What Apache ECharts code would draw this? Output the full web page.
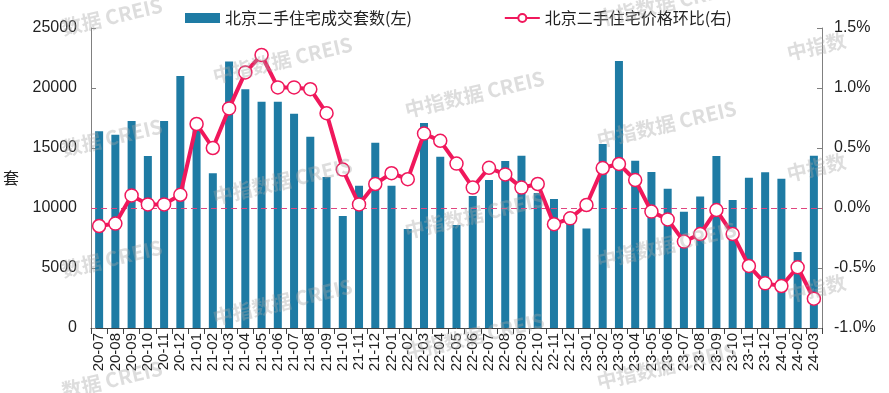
<!DOCTYPE html>
<html><head><meta charset="utf-8">
<script src="https://cdn.jsdelivr.net/npm/echarts@6/dist/echarts.min.js"></script>
<style>html,body{margin:0;padding:0;background:#fff}#c{width:889px;height:393px}</style>
</head><body><div id="c"></div>
<script>
const categories = ['20-07','20-08','20-09','20-10','20-11','20-12',
'21-01','21-02','21-03','21-04','21-05','21-06','21-07','21-08','21-09','21-10','21-11','21-12',
'22-01','22-02','22-03','22-04','22-05','22-06','22-07','22-08','22-09','22-10','22-11','22-12',
'23-01','23-02','23-03','23-04','23-05','23-06','23-07','23-08','23-09','23-10','23-11','23-12',
'24-01','24-02','24-03'];
const volumes = [16400,16100,17250,14330,17250,21000,
17400,12900,22200,19900,18860,18860,17860,15940,12580,9330,11860,15440,
11860,8250,17080,14270,8580,11000,12330,13920,14360,11250,10750,9000,
8300,15330,22250,13940,13000,11600,9690,10950,14330,10670,12530,12970,
12440,6330,14360];
const priceMoM = [-0.15,-0.13,0.105,0.03,0.03,0.11,
0.70,0.50,0.83,1.13,1.275,1.005,1.005,0.99,0.79,0.32,0.03,0.20,
0.29,0.24,0.62,0.56,0.37,0.17,0.335,0.28,0.17,0.20,-0.135,-0.086,
0.025,0.333,0.367,0.233,-0.03,-0.095,-0.28,-0.217,-0.017,-0.217,-0.483,-0.628,
-0.65,-0.494,-0.756];
const seriesNames = ['北京二手住宅成交套数(左)','北京二手住宅价格环比(右)'];
const leftTicks = {min:0,max:25000,interval:5000};
const rightTicks = {min:-1.0,max:1.5,interval:0.5};

const BAR = '#1e7ba4', LINE = '#f0185c';
const numFont = 'Liberation Sans, Arial, sans-serif';
const cjkFont = 'Noto Sans CJK SC, sans-serif';

// watermark tiles (decoration)
const wm = [];
const colX = [21,213,405,597,787];
const colY0 = [37,76,110,140,53];
for (let c=0;c<colX.length;c++){
  for (let r=-1;r<4;r++){
    let y = colY0[c] + r*121;
    if (y < 0 || y > 400) continue;
    let x = colX[c], txt = '中指数据 CREIS';
    if (c===0){ x = 62; txt = '数据 CREIS'; y -= 9; }
    if (c===4){ txt = '中指数'; }
    wm.push({type:'text', x:x, y:y, rotation: 13*Math.PI/180, z:100, silent:true,
      style:{text:txt, fill:'rgba(165,165,165,0.38)', font:'bold 20px "Noto Sans CJK SC", sans-serif',
        textAlign:'left', textVerticalAlign:'middle'}});
  }
}

const chart = echarts.init(document.getElementById('c'), null, {renderer:'canvas'});
chart.setOption({
  animation:false,
  backgroundColor:'#fff',
  graphic: wm,
  legend:{
    top:5, left:180, itemGap:92, itemWidth:35, itemHeight:10,
    textStyle:{fontSize:16, color:'#222', fontFamily:cjkFont},
    data:[{name:seriesNames[0], icon:'rect', itemStyle:{color:BAR}},
          {name:seriesNames[1]}]
  },
  grid:{left:88, right:67, top:28, bottom:65, containLabel:false},
  xAxis:{
    type:'category', data:categories,
    axisLine:{lineStyle:{color:'#404040', width:1}},
    axisTick:{show:true, alignWithLabel:false, length:6, lineStyle:{color:'#404040'}},
    axisLabel:{rotate:90, interval:0, fontSize:15, color:'#222', fontFamily:numFont, margin:5}
  },
  yAxis:[{
    type:'value', min:leftTicks.min, max:leftTicks.max, interval:leftTicks.interval,
    name:'套', nameLocation:'middle', nameRotate:0, nameGap:72,
    nameTextStyle:{fontSize:16, color:'#222', fontFamily:cjkFont},
    axisLine:{show:true, lineStyle:{color:'#808080'}},
    axisTick:{show:true, inside:true, length:5, lineStyle:{color:'#808080'}},
    splitLine:{show:false},
    axisLabel:{fontSize:16, color:'#222', fontFamily:numFont, margin:14,
      formatter:v=>String(v)}
  },{
    type:'value', min:rightTicks.min, max:rightTicks.max, interval:rightTicks.interval,
    axisLine:{show:true, lineStyle:{color:'#808080'}},
    axisTick:{show:true, inside:true, length:5, lineStyle:{color:'#808080'}},
    splitLine:{show:false},
    axisLabel:{fontSize:16, color:'#222', fontFamily:numFont, margin:12,
      formatter:v=>v.toFixed(1)+'%'}
  }],
  series:[{
    name:seriesNames[0], type:'bar', data:volumes, barWidth:8,
    itemStyle:{color:BAR}
  },{
    name:seriesNames[1], type:'line', yAxisIndex:1, data:priceMoM,
    symbol:'circle', symbolSize:13, showAllSymbol:true,
    lineStyle:{color:LINE, width:4},
    itemStyle:{color:'#fff', borderColor:LINE, borderWidth:1.5},
    z:5,
    markLine:{silent:true, symbol:'none', label:{show:false},
      lineStyle:{color:'#e0457f', type:[6,4], width:1.2},
      data:[{yAxis:0}]}
  }]
});
</script></body></html>
